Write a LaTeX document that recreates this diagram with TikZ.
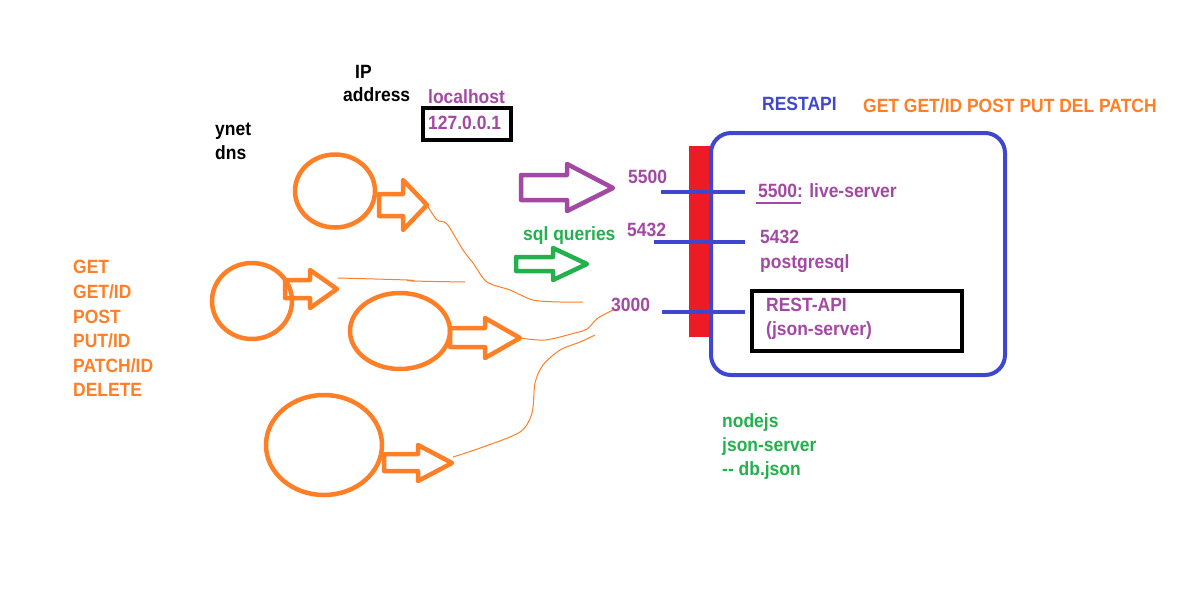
\documentclass[tikz,border=0pt]{standalone}
\usepackage{fontspec}
\setmainfont[FakeStretch=0.91]{Liberation Sans}
\definecolor{ored}{HTML}{FF7F27}
\definecolor{pur}{HTML}{A349A4}
\definecolor{grn}{HTML}{22B14C}
\definecolor{blu}{HTML}{3F48CC}
\definecolor{rd}{HTML}{ED1C24}
\tikzset{
  txt/.style={anchor=base west, inner sep=0pt, font=\fontsize{19.2}{22}\selectfont\bfseries},
  otxt/.style={txt, text=ored},
  ptxt/.style={txt, text=pur},
  gtxt/.style={txt, text=grn},
  ktxt/.style={txt, text=black},
  btxt/.style={txt, text=blu},
  oval/.style={draw=ored, line width=4.5pt, ellipse, inner sep=0pt},
  fatarrow/.style={line width=4.5pt, line join=round},
  wire/.style={draw=ored, line width=1pt},
  port/.style={draw=blu, line width=4pt},
}
\usetikzlibrary{shapes.geometric}
\begin{document}
\begin{tikzpicture}[x=1pt,y=-1pt]
\useasboundingbox (0,0) rectangle (1200,600);
\fill[white] (0,0) rectangle (1200,600);

% texts top left
\node[ktxt] (ip) at (355,78) {IP};
\node[ktxt] (addr) at (343,101) {address};
\node[ktxt] (ynet) at (215,135) {ynet};
\node[ktxt] (dns) at (215,159) {dns};
\node[ptxt] (lh) at (428,103) {localhost};
\node[ptxt] (ipn) at (428,129) {127.0.0.1};
\node[draw=black, line width=4pt, minimum width=88pt, minimum height=32pt, inner sep=0pt] (ipbox) at (467,124) {};

% left method list
\node[otxt] (m1) at (73,273) {GET};
\node[otxt] (m2) at (73,298) {GET/ID};
\node[otxt] (m3) at (73,323) {POST};
\node[otxt] (m4) at (73,347) {PUT/ID};
\node[otxt] (m5) at (73,372) {PATCH/ID};
\node[otxt] (m6) at (73,396) {DELETE};

% top right titles
\node[btxt] (rest) at (762,110) {RESTAPI};
\node[otxt] (meth) at (863,112) {GET GET/ID POST PUT DEL PATCH};

% red bar and server box
\fill[rd] (689,146) rectangle (711,337);
\node[draw=blu, line width=4pt, rounded corners=20pt, minimum width=294pt, minimum height=242pt, inner sep=0pt] (srv) at (858,254) {};

% ports
\coordinate (p1a) at (661,192); \coordinate (p1b) at (745,192);
\coordinate (p2a) at (654,242); \coordinate (p2b) at (745,242);
\coordinate (p3a) at (662,312); \coordinate (p3b) at (745,312);
\draw[port] (p1a) -- (p1b);
\draw[port] (p2a) -- (p2b);
\draw[port] (p3a) -- (p3b);
\node[ptxt] (l5500) at (628,183) {5500};
\node[ptxt] (l5432) at (627,236) {5432};
\node[ptxt] (l3000) at (611,311) {3000};

% inside box
\node[ptxt] (live) at (758,197) {5500: live-server};
\coordinate (u1) at (756,203); \coordinate (u2) at (801,203);
\draw[pur, line width=1.2pt] (u1) -- (u2);
\node[ptxt] (pg1) at (760,243) {5432};
\node[ptxt] (pg2) at (760,268) {postgresql};
\node[draw=black, line width=4pt, minimum width=210pt, minimum height=60pt, inner sep=0pt] (jbox) at (857,321) {};
\node[ptxt] (ra1) at (766,311) {REST-API};
\node[ptxt] (ra2) at (766,335) {(json-server)};

% bottom green text
\node[gtxt] (nj1) at (722,427) {nodejs};
\node[gtxt] (nj2) at (722,451) {json-server};
\node[gtxt] (nj3) at (722,475) {-{}- db.json};
\node[gtxt] (sql) at (523,240) {sql queries};

% purple and green fat arrows
\draw[fatarrow, pur] (521,175) -- (567,175) -- (567,164) -- (613,188) -- (567,211) -- (567,200) -- (521,200) -- cycle;
\draw[fatarrow, grn] (516,257) -- (553,257) -- (553,248) -- (587,264) -- (553,280) -- (553,271) -- (516,271) -- cycle;

% clients
\node[oval, minimum width=80pt, minimum height=73pt] (c1) at (335,191) {};
\node[oval, minimum width=80pt, minimum height=76pt] (c2) at (252,301) {};
\node[oval, minimum width=100pt, minimum height=76pt] (c3) at (400,331) {};
\node[oval, minimum width=116pt, minimum height=100pt] (c4) at (324,445) {};

\coordinate (t1) at (427,205);
\coordinate (t2) at (337,289);
\coordinate (t3) at (520,338);
\coordinate (t4) at (452,463);
\draw[fatarrow, ored] (379,194) -- (403,194) -- (403,180) -- (t1) -- (403,230) -- (403,216) -- (379,216) -- cycle;
\draw[fatarrow, ored] (285,280) -- (310,280) -- (310,270) -- (t2) -- (310,308) -- (310,298) -- (285,298) -- cycle;
\draw[fatarrow, ored] (450,328) -- (485,328) -- (485,318) -- (t3) -- (485,358) -- (485,347) -- (450,347) -- cycle;
\draw[fatarrow, ored] (384,454) -- (418,454) -- (418,445) -- (t4) -- (418,481) -- (418,471) -- (384,471) -- cycle;

% thin wires
\coordinate (w1) at (583,302);
\coordinate (w2a) at (338,278);
\coordinate (w2) at (465,282);
\coordinate (w3) at (613,310);
\coordinate (w4) at (595,335);
\draw[wire] plot[smooth, tension=0.5] coordinates {(t1) (437,220) (447,224) (463,250) (473,263) (487,282) (510,290) (533,300) (560,302) (w1)};
\draw[wire] plot[smooth, tension=0.5] coordinates {(w2a) (408,280) (412,281) (w2)};
\draw[wire] plot[smooth, tension=0.5] coordinates {(t3) (545,340) (575,333) (587,329) (598,318) (w3)};
\draw[wire] plot[smooth, tension=0.5] coordinates {(453,457) (483,447) (520,432) (532,413) (535,383) (543,365) (560,350) (580,342) (w4)};
\end{tikzpicture}
\end{document}
